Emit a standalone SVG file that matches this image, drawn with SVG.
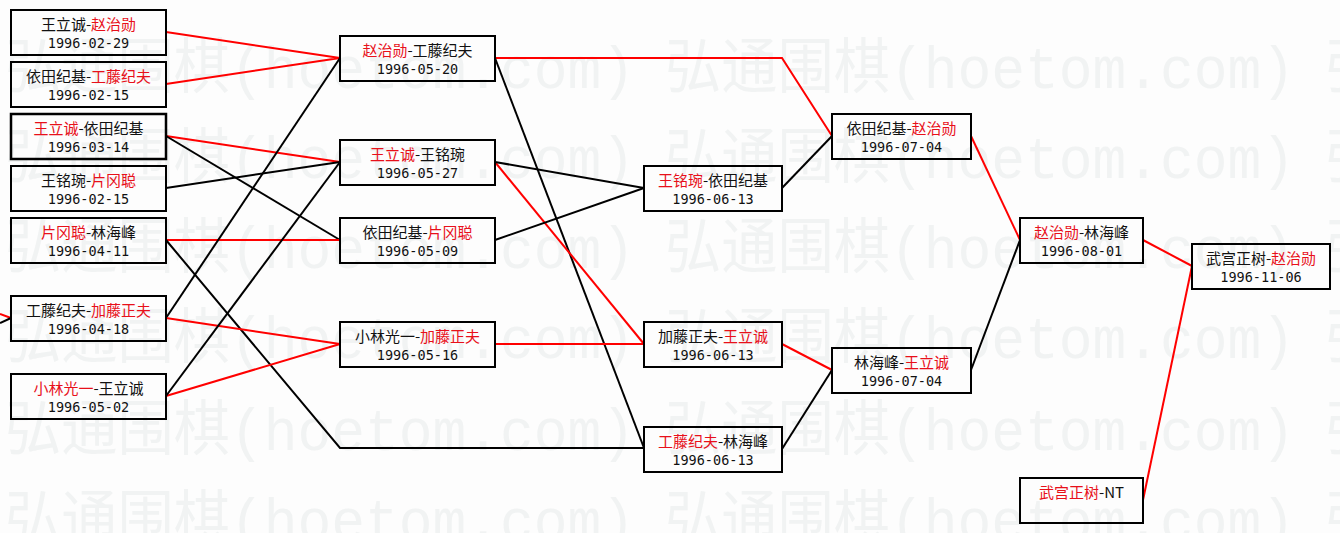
<svg xmlns="http://www.w3.org/2000/svg" width="1340" height="533" viewBox="0 0 1340 533">
<style>
.bg{fill:#fdfdfd}
.wm{font-family:"Liberation Mono","Noto Sans CJK SC",monospace;font-size:60px;fill:#f1f3f3}
.box{fill:none;stroke:#000;stroke-width:2}
.t{font-family:"Noto Sans CJK SC","Noto Sans",sans-serif;font-size:15px;fill:#111;text-anchor:middle}
.d{font-family:"DejaVu Sans Mono","Liberation Mono",monospace;font-size:13.5px;fill:#111;text-anchor:middle}
.r{fill:#e8101a}
.lr{fill:none;stroke:#f00;stroke-width:2}
.lb{fill:none;stroke:#000;stroke-width:2}
</style>
<rect class="bg" x="0" y="0" width="1340" height="533"/>
<g id="watermark">
<text class="wm" x="5" y="88" textLength="630" lengthAdjust="spacingAndGlyphs">弘通围棋(hoetom.com)</text>
<text class="wm" x="665" y="88" textLength="630" lengthAdjust="spacingAndGlyphs">弘通围棋(hoetom.com)</text>
<text class="wm" x="1325" y="88">弘</text>
<text class="wm" x="5" y="178" textLength="630" lengthAdjust="spacingAndGlyphs">弘通围棋(hoetom.com)</text>
<text class="wm" x="665" y="178" textLength="630" lengthAdjust="spacingAndGlyphs">弘通围棋(hoetom.com)</text>
<text class="wm" x="1325" y="178">弘</text>
<text class="wm" x="5" y="268" textLength="630" lengthAdjust="spacingAndGlyphs">弘通围棋(hoetom.com)</text>
<text class="wm" x="665" y="268" textLength="630" lengthAdjust="spacingAndGlyphs">弘通围棋(hoetom.com)</text>
<text class="wm" x="1325" y="268">弘</text>
<text class="wm" x="5" y="358" textLength="630" lengthAdjust="spacingAndGlyphs">弘通围棋(hoetom.com)</text>
<text class="wm" x="665" y="358" textLength="630" lengthAdjust="spacingAndGlyphs">弘通围棋(hoetom.com)</text>
<text class="wm" x="1325" y="358">弘</text>
<text class="wm" x="5" y="450" textLength="630" lengthAdjust="spacingAndGlyphs">弘通围棋(hoetom.com)</text>
<text class="wm" x="665" y="450" textLength="630" lengthAdjust="spacingAndGlyphs">弘通围棋(hoetom.com)</text>
<text class="wm" x="1325" y="450">弘</text>
<text class="wm" x="5" y="540" textLength="630" lengthAdjust="spacingAndGlyphs">弘通围棋(hoetom.com)</text>
<text class="wm" x="665" y="540" textLength="630" lengthAdjust="spacingAndGlyphs">弘通围棋(hoetom.com)</text>
<text class="wm" x="1325" y="540">弘</text>
</g>
<g id="connectors">
<path class="lr" d="M0 314L11 318"/>
<path class="lb" d="M0 323L11 318"/>
<path class="lr" d="M166 32L340 58M166 84L340 58"/>
<path class="lr" d="M166 136L340 162"/>
<path class="lb" d="M166 136L340 240"/>
<path class="lb" d="M166 188L340 162"/>
<path class="lr" d="M166 240L340 240"/>
<path class="lb" d="M166 240L340 448L644 448"/>
<path class="lb" d="M166 318L340 58"/>
<path class="lr" d="M166 318L340 344"/>
<path class="lr" d="M166 396L340 344"/>
<path class="lb" d="M166 396L340 162"/>
<path class="lr" d="M495 58L782 58L832 136"/>
<path class="lb" d="M495 58L644 448"/>
<path class="lr" d="M495 162L644 344"/>
<path class="lb" d="M495 162L644 188"/>
<path class="lb" d="M495 240L644 188"/>
<path class="lr" d="M495 344L644 344"/>
<path class="lb" d="M782 188L832 136"/>
<path class="lr" d="M782 344L832 370"/>
<path class="lb" d="M782 449L832 370"/>
<path class="lr" d="M971 136L1020 240"/>
<path class="lb" d="M971 370L1020 240"/>
<path class="lr" d="M1143 240L1192 266"/>
<path class="lr" d="M1143 500L1192 266"/>
</g>
<g id="n1"><rect class="box" x="11" y="10" width="155" height="45"/><text class="t" x="88.5" y="30">王立诚-<tspan class="r">赵治勋</tspan></text><text class="d" x="88.5" y="48">1996-02-29</text></g>
<g id="n2"><rect class="box" x="11" y="62" width="155" height="45"/><text class="t" x="88.5" y="82">依田纪基-<tspan class="r">工藤纪夫</tspan></text><text class="d" x="88.5" y="100">1996-02-15</text></g>
<g id="n3"><rect class="box" x="11" y="114" width="155" height="45" style="stroke-width:2.5"/><text class="t" x="88.5" y="134"><tspan class="r">王立诚</tspan>-依田纪基</text><text class="d" x="88.5" y="152">1996-03-14</text></g>
<g id="n4"><rect class="box" x="11" y="166" width="155" height="45"/><text class="t" x="88.5" y="186">王铭琬-<tspan class="r">片冈聪</tspan></text><text class="d" x="88.5" y="204">1996-02-15</text></g>
<g id="n5"><rect class="box" x="11" y="218" width="155" height="45"/><text class="t" x="88.5" y="238"><tspan class="r">片冈聪</tspan>-林海峰</text><text class="d" x="88.5" y="256">1996-04-11</text></g>
<g id="n6"><rect class="box" x="11" y="296" width="155" height="45"/><text class="t" x="88.5" y="316">工藤纪夫-<tspan class="r">加藤正夫</tspan></text><text class="d" x="88.5" y="334">1996-04-18</text></g>
<g id="n7"><rect class="box" x="11" y="374" width="155" height="45"/><text class="t" x="88.5" y="394"><tspan class="r">小林光一</tspan>-王立诚</text><text class="d" x="88.5" y="412">1996-05-02</text></g>
<g id="n8"><rect class="box" x="340" y="36" width="155" height="45"/><text class="t" x="417.5" y="56"><tspan class="r">赵治勋</tspan>-工藤纪夫</text><text class="d" x="417.5" y="74">1996-05-20</text></g>
<g id="n9"><rect class="box" x="340" y="140" width="155" height="45"/><text class="t" x="417.5" y="160"><tspan class="r">王立诚</tspan>-王铭琬</text><text class="d" x="417.5" y="178">1996-05-27</text></g>
<g id="n10"><rect class="box" x="340" y="218" width="155" height="45"/><text class="t" x="417.5" y="238">依田纪基-<tspan class="r">片冈聪</tspan></text><text class="d" x="417.5" y="256">1996-05-09</text></g>
<g id="n11"><rect class="box" x="340" y="322" width="155" height="45"/><text class="t" x="417.5" y="342">小林光一-<tspan class="r">加藤正夫</tspan></text><text class="d" x="417.5" y="360">1996-05-16</text></g>
<g id="n12"><rect class="box" x="644" y="166" width="138" height="45"/><text class="t" x="713" y="186"><tspan class="r">王铭琬</tspan>-依田纪基</text><text class="d" x="713" y="204">1996-06-13</text></g>
<g id="n13"><rect class="box" x="644" y="322" width="138" height="45"/><text class="t" x="713" y="342">加藤正夫-<tspan class="r">王立诚</tspan></text><text class="d" x="713" y="360">1996-06-13</text></g>
<g id="n14"><rect class="box" x="644" y="427" width="138" height="45"/><text class="t" x="713" y="447"><tspan class="r">工藤纪夫</tspan>-林海峰</text><text class="d" x="713" y="465">1996-06-13</text></g>
<g id="n15"><rect class="box" x="832" y="114" width="139" height="45"/><text class="t" x="901.5" y="134">依田纪基-<tspan class="r">赵治勋</tspan></text><text class="d" x="901.5" y="152">1996-07-04</text></g>
<g id="n16"><rect class="box" x="832" y="348" width="139" height="45"/><text class="t" x="901.5" y="368">林海峰-<tspan class="r">王立诚</tspan></text><text class="d" x="901.5" y="386">1996-07-04</text></g>
<g id="n17"><rect class="box" x="1020" y="218" width="123" height="45"/><text class="t" x="1081.5" y="238"><tspan class="r">赵治勋</tspan>-林海峰</text><text class="d" x="1081.5" y="256">1996-08-01</text></g>
<g id="n18"><rect class="box" x="1192" y="244" width="138" height="45"/><text class="t" x="1261" y="264">武宫正树-<tspan class="r">赵治勋</tspan></text><text class="d" x="1261" y="282">1996-11-06</text></g>
<g id="n19"><rect class="box" x="1020" y="478" width="123" height="45"/><text class="t" x="1081.5" y="498"><tspan class="r">武宫正树</tspan>-NT</text></g>
</svg>
